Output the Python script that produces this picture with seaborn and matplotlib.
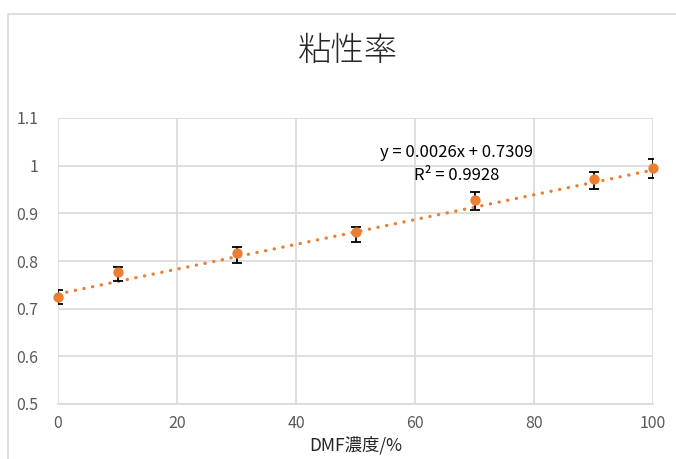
import numpy as np
import pandas as pd
import matplotlib
matplotlib.use("Agg")
import matplotlib.pyplot as plt
from matplotlib.patches import Rectangle
import seaborn as sns

# data
dmf = [0, 10, 30, 50, 70, 90, 100]
viscosity = [0.725, 0.777, 0.817, 0.861, 0.929, 0.973, 0.996]
err_upper = [0.739, 0.787, 0.829, 0.871, 0.945, 0.987, 1.013]
err_lower = [0.709, 0.758, 0.796, 0.840, 0.907, 0.951, 0.974]

slope = 0.0026
intercept = 0.7309
r2 = 0.9928

x_ticks = [0, 20, 40, 60, 80, 100]
y_ticks = [0.5, 0.6, 0.7, 0.8, 0.9, 1.0, 1.1]
y_labels = ["0.5", "0.6", "0.7", "0.8", "0.9", "1", "1.1"]

sns.set_theme(style="white")
plt.rcParams["font.family"] = ["Noto Sans CJK JP", "DejaVu Sans"]

df = pd.DataFrame({"dmf": dmf, "visc": viscosity})
trend = pd.DataFrame({"x": [x_ticks[0], x_ticks[-1]]})
trend["y"] = slope * trend["x"] + intercept

fig = plt.figure(figsize=(6.76, 4.59), dpi=100)
ax = fig.add_axes([58 / 676, 1 - 404 / 459, 595 / 676, 286 / 459])

# outer chart frame (runs off the right/bottom edge)
fig.add_artist(Rectangle((8 / 676, -0.1), 1.2, 0.1 + 1 - 14 / 459,
                         transform=fig.transFigure, fill=False,
                         edgecolor="#d9d9d9", lw=1.2))

orange = "#ED7D31"
sns.lineplot(data=trend, x="x", y="y", ax=ax, color=orange, lw=2.4,
             linestyle=(0, (0.05, 2.6)), dash_capstyle="round", zorder=2)

yerr = [np.array(viscosity) - np.array(err_lower),
        np.array(err_upper) - np.array(viscosity)]
ax.errorbar(dmf, viscosity, yerr=yerr, fmt="none", ecolor="black",
            elinewidth=1.3, capsize=3.5, capthick=1.3, zorder=3)
sns.scatterplot(data=df, x="dmf", y="visc", ax=ax, color=orange, s=55,
                edgecolor=orange, linewidth=0, zorder=4, clip_on=False)

ax.set_xlim(0, 100)
ax.set_ylim(0.5, 1.1)
ax.set_xticks(x_ticks)
ax.set_yticks(y_ticks)
ax.set_yticklabels(y_labels)
ax.grid(True, color="#d9d9d9", lw=1.2)
for side in ["top", "right", "left"]:
    ax.spines[side].set_visible(False)
ax.spines["bottom"].set_color("#d9d9d9")
ax.tick_params(axis="both", length=0, labelsize=11.5, labelcolor="#595959", pad=8)
ax.tick_params(axis="y", pad=14)

ax.set_xlabel("DMF濃度/%", fontsize=12.5, color="#262626", labelpad=3)
ax.set_ylabel("")
fig.text(0.5 + 10 / 676, 1 - 52 / 459, "粘性率", ha="center", va="center",
         fontsize=24, color="#262626", fontweight="light")

fig.text(456 / 676, 1 - 153 / 459, f"y = {slope}x + {intercept}",
         ha="center", va="center", fontsize=12, color="black")
fig.text(457 / 676, 1 - 176 / 459, f"R² = {r2}",
         ha="center", va="center", fontsize=12, color="black")

fig.savefig("out.png", dpi=100)
